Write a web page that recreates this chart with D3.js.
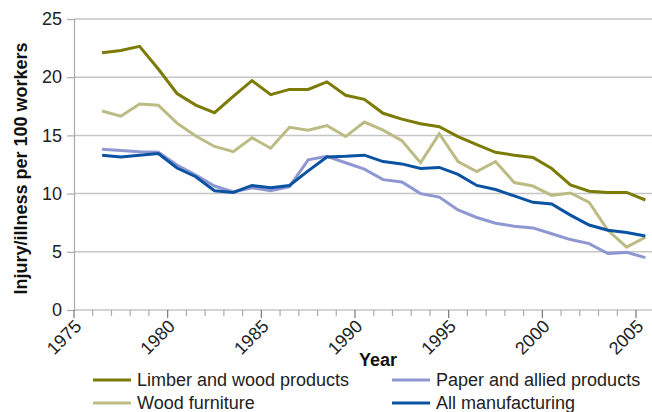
<!DOCTYPE html>
<html>
<head>
<meta charset="utf-8">
<script src="https://cdn.jsdelivr.net/npm/d3@7"></script>
<style>
  html, body { margin: 0; padding: 0; background: #fff; }
  svg { display: block; font-family: "Liberation Sans", Arial, sans-serif; }
</style>
</head>
<body>
<svg id="chart" width="652" height="412"></svg>
<script>
// Years 1976..2005 (plotted at mid-year)
const years = d3.range(1976, 2006);

const lumber = [22.1, 22.3, 22.65, 20.7, 18.6, 17.6, 16.95, 18.35, 19.7, 18.5,
                18.95, 18.95, 19.6, 18.45, 18.1, 16.9, 16.4, 16.0, 15.75, 14.9,
                14.2, 13.55, 13.3, 13.1, 12.15, 10.75, 10.2, 10.1, 10.1, 9.45];
const furniture = [17.1, 16.65, 17.7, 17.6, 16.05, 14.95, 14.05, 13.6, 14.8, 13.9,
                   15.7, 15.45, 15.85, 14.9, 16.15, 15.45, 14.55, 12.65, 15.15, 12.75,
                   11.9, 12.75, 10.95, 10.65, 9.85, 10.05, 9.25, 6.85, 5.4, 6.25];
const paper = [13.8, 13.7, 13.6, 13.55, 12.45, 11.6, 10.65, 10.15, 10.5, 10.25,
               10.6, 12.9, 13.2, 12.65, 12.1, 11.2, 11.0, 10.0, 9.7, 8.6,
               7.95, 7.45, 7.2, 7.05, 6.55, 6.05, 5.7, 4.85, 4.95, 4.5];
const allMfg = [13.3, 13.15, 13.3, 13.45, 12.2, 11.45, 10.25, 10.1, 10.7, 10.5,
                10.7, 11.95, 13.15, 13.2, 13.3, 12.75, 12.55, 12.15, 12.25, 11.65,
                10.7, 10.35, 9.8, 9.25, 9.1, 8.15, 7.3, 6.85, 6.65, 6.35];

const seriesNames = ["Limber and wood products", "Wood furniture", "Paper and allied products", "All manufacturing"];
const seriesValues = [lumber, furniture, paper, allMfg];
const colors = ["#7b7b06", "#bdbb84", "#8e97d1", "#0a52a2"];
const yTicks = [0, 5, 10, 15, 20, 25];
const xMajorTicks = [1975, 1980, 1985, 1990, 1995, 2000, 2005];

const W = 652, H = 412;
const svg = d3.select("#chart");

const x = d3.scaleLinear().domain([1975, 2005]).range([74, 636]);
const y = d3.scaleLinear().domain([0, 25]).range([310, 19]);

// gridlines
svg.append("g").selectAll("line").data(yTicks.slice(1)).join("line")
  .attr("x1", x(1975)).attr("x2", W)
  .attr("y1", d => y(d)).attr("y2", d => y(d))
  .attr("stroke", "#c6c6c6").attr("stroke-width", 1.5);

// y axis
const yAxis = svg.append("g").attr("transform", `translate(${x(1975)},0)`)
  .call(d3.axisLeft(y).tickValues(yTicks).tickSize(7).tickPadding(5));
yAxis.select(".domain").attr("stroke", "#aaa").attr("stroke-width", 1.2);
yAxis.selectAll(".tick line").attr("stroke", "#aaa").attr("stroke-width", 1.2);
yAxis.selectAll(".tick text").attr("font-size", 18).attr("fill", "#222")
  .attr("font-family", "'Liberation Sans', Arial, sans-serif");

// x axis baseline
svg.append("line").attr("x1", x(1975)).attr("x2", W).attr("y1", y(0)).attr("y2", y(0))
  .attr("stroke", "#aaa").attr("stroke-width", 1.2);

// minor ticks
const minor = d3.range(1975, 2006);
svg.append("g").selectAll("line").data(minor).join("line")
  .attr("x1", d => x(d)).attr("x2", d => x(d))
  .attr("y1", y(0)).attr("y2", d => y(0) + (d % 5 === 0 ? 8 : 6))
  .attr("stroke", d => d % 5 === 0 ? "#777" : "#aaa").attr("stroke-width", 1.2);

// x tick labels
svg.append("g").selectAll("text").data(xMajorTicks).join("text")
  .attr("transform", d => `translate(${x(d) + 4},${y(0) + 13}) rotate(-45)`)
  .attr("text-anchor", "end").attr("dy", "0.35em")
  .attr("font-size", 18).attr("fill", "#222")
  .text(d => d);

// lines
const line = d3.line().x((d, i) => x(years[i] + 0.5)).y(d => y(d));
svg.append("g").selectAll("path").data(seriesValues).join("path")
  .attr("d", d => line(d))
  .attr("fill", "none")
  .attr("stroke", (d, i) => colors[i])
  .attr("stroke-width", 3)
  .attr("stroke-linejoin", "miter");

// axis titles
svg.append("text")
  .attr("transform", `translate(27,${(y(0) + y(25)) / 2 + 4}) rotate(-90)`)
  .attr("text-anchor", "middle").attr("font-weight", "bold").attr("font-size", 18)
  .attr("fill", "#111")
  .text("Injury/illness per 100 workers");

svg.append("text")
  .attr("x", 378).attr("y", 366)
  .attr("text-anchor", "middle").attr("font-weight", "bold").attr("font-size", 18)
  .attr("fill", "#111")
  .text("Year");

// legend
const legendPos = [[93, 380], [93, 403], [392, 380], [392, 403]];
const order = [0, 1, 2, 3];
const leg = svg.append("g").selectAll("g").data(order).join("g")
  .attr("transform", (d, i) => `translate(${legendPos[i][0]},${legendPos[i][1]})`);
leg.append("line").attr("x1", 0).attr("x2", 38).attr("y1", 0).attr("y2", 0)
  .attr("stroke", d => colors[d]).attr("stroke-width", 3);
leg.append("text").attr("x", 44).attr("y", 0).attr("dy", "0.35em")
  .attr("font-size", 18).attr("fill", "#222")
  .text(d => seriesNames[d]);
</script>
</body>
</html>
